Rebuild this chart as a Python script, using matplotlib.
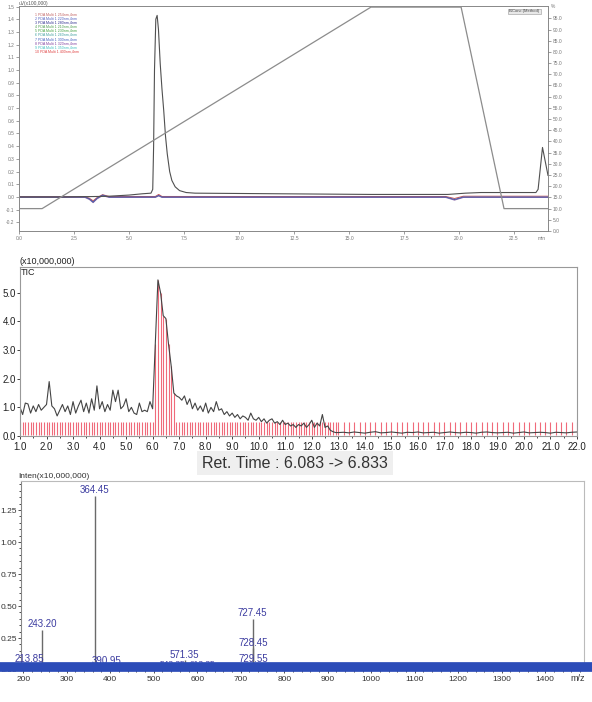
import matplotlib.pyplot as plt
import numpy as np
from matplotlib.ticker import MultipleLocator, FixedLocator

plt.rcParams['font.family'] = ['Liberation Sans', 'DejaVu Sans']

# ---------------- PDA chromatogram + gradient ----------------
main_t = [0.0, 2.0, 4.0, 5.0, 5.6, 6.0, 6.08, 6.12, 6.16, 6.22, 6.28, 6.34, 6.42, 6.5,
          6.58, 6.66, 6.74, 6.85, 6.95, 7.1, 7.3, 7.6, 8.0, 12.0, 16.0, 19.5, 20.3,
          21.0, 23.5, 23.6, 23.8, 24.05]
main_v = [0.0, 0.0, 0.005, 0.015, 0.025, 0.03, 0.06, 0.4, 1.0, 1.40, 1.43, 1.32, 1.05,
          0.85, 0.68, 0.48, 0.34, 0.2, 0.13, 0.08, 0.05, 0.035, 0.03, 0.025, 0.02, 0.02,
          0.03, 0.035, 0.035, 0.06, 0.39, 0.17]

blue_t = [0.0, 3.0, 3.2, 3.37, 3.55, 3.8, 4.1, 6.2, 6.35, 6.5, 19.4, 19.8, 20.2, 24.05]
blue_v = [0.0, 0.0, -0.015, -0.04, -0.01, 0.015, 0.0, 0.0, 0.012, 0.0, 0.0, -0.02, 0.0, 0.0]
red_v = [0.003, 0.003, -0.01, -0.03, -0.005, 0.018, 0.004, 0.004, 0.02, 0.004, 0.004,
         -0.012, 0.006, 0.006]
purple_v = [-0.004, -0.004, -0.02, -0.045, -0.015, 0.01, -0.004, -0.004, 0.008, -0.004,
            -0.004, -0.025, -0.004, -0.004]

grad_t = [0.0, 1.05, 16.0, 20.1, 22.05, 24.05]
grad_b = [10, 10, 100, 100, 10, 10]

legend_lines = ['1 PDA Multi 1 254nm,4nm', '2 PDA Multi 1 220nm,4nm', '3 PDA Multi 1 280nm,4nm',
                '4 PDA Multi 1 210nm,4nm', '5 PDA Multi 1 230nm,4nm', '6 PDA Multi 1 260nm,4nm',
                '7 PDA Multi 1 300nm,4nm', '8 PDA Multi 1 320nm,4nm', '9 PDA Multi 1 350nm,4nm',
                '10 PDA Multi 1 400nm,4nm']
legend_colors = ['#c06060', '#5060c0', '#303090', '#50a050', '#40a040', '#40a0a0',
                 '#4060c0', '#8040a0', '#40c0c0', '#e04040']

# ---------------- TIC ----------------
tic_t1 = [round(1.0 + 0.1 * i, 2) for i in range(121)]
tic_v1 = [1.00, 0.75, 1.15, 1.12, 0.80, 1.05, 0.85, 1.10, 0.90, 1.00,
          1.10, 1.90, 1.05, 0.95, 0.70, 0.90, 1.10, 0.85, 1.05, 0.75,
          1.20, 0.80, 1.05, 1.25, 0.85, 1.15, 0.80, 1.30, 0.90, 1.75,
          0.95, 1.20, 0.85, 1.10, 0.90, 1.60, 1.20, 1.60, 0.95, 1.05,
          1.30, 0.85, 1.00, 0.80, 0.75, 1.15, 0.85, 0.90, 0.85, 1.20,
          0.95, 3.20, 5.45, 5.00, 4.20, 4.10, 3.20, 2.45, 1.50, 1.40,
          1.35, 1.25, 1.40, 1.10, 1.30, 0.95, 1.15, 0.90, 1.05, 0.85,
          1.15, 0.80, 1.00, 0.85, 1.20, 0.90, 0.95, 0.75, 0.85, 0.70,
          0.80, 0.65, 0.75, 0.60, 0.70, 0.65, 0.55, 0.80, 0.60, 0.55,
          0.65, 0.50, 0.60, 0.45, 0.55, 0.60, 0.45, 0.50, 0.40, 0.55,
          0.40, 0.45, 0.35, 0.40, 0.30, 0.40, 0.35, 0.45, 0.30, 0.40,
          0.55, 0.30, 0.45, 0.35, 0.75, 0.30, 0.35, 0.20, 0.15, 0.12,
          0.12]
tic_t2 = [round(13.2 + 0.2 * i, 2) for i in range(45)]
tic_v2 = [0.13, 0.11, 0.14, 0.12, 0.10, 0.13, 0.15, 0.11, 0.12, 0.14,
          0.12, 0.10, 0.13, 0.12, 0.14, 0.11, 0.12, 0.13, 0.10, 0.12,
          0.14, 0.12, 0.11, 0.13, 0.12, 0.10, 0.13, 0.14, 0.12, 0.11,
          0.12, 0.13, 0.10, 0.12, 0.14, 0.11, 0.12, 0.13, 0.12, 0.10,
          0.13, 0.12, 0.11, 0.13, 0.14]
tic_t = tic_t1 + tic_t2
tic_v = tic_v1 + tic_v2
scan_mark_h = 0.48
rt_from, rt_to = 6.083, 6.833

# ---------------- Mass spectrum ----------------
ms_mz = [213.85, 243.20, 364.45, 390.95, 543.35, 571.35, 612.35, 727.45, 728.45, 729.55]
ms_int = [0.045, 0.31, 1.36, 0.035, 0.012, 0.08, 0.012, 0.40, 0.17, 0.05]
ms_labels = ['213.85', '243.20', '364.45', '390.95', '543.35', '571.35', '612.35',
             '727.45', '728.45', '729.55']

W, H = 592, 702
fig = plt.figure(figsize=(W / 100, H / 100), dpi=100)

def frac(l, t, r, b):
    return [l / W, 1 - b / H, (r - l) / W, (b - t) / H]

# top panel
ax1 = fig.add_axes(frac(19, 6, 548, 231))
ax1.plot(blue_t, purple_v, color='#8a6aa8', lw=0.7)
ax1.plot(blue_t, red_v, color='#c85858', lw=0.7)
ax1.plot(blue_t, blue_v, color='#4858a8', lw=0.7)
ax1.plot(main_t, main_v, color='#505050', lw=0.8)
ax1.set_xlim(0, 24.05)
ax1.set_ylim(-0.268, 1.504)
ax1.xaxis.set_major_locator(FixedLocator([0, 2.5, 5, 7.5, 10, 12.5, 15, 17.5, 20, 22.5]))
ax1.set_xticklabels(['0.0', '2.5', '5.0', '7.5', '10.0', '12.5', '15.0', '17.5', '20.0', '22.5'])
ax1.yaxis.set_major_locator(MultipleLocator(0.1))
ax1.yaxis.set_major_formatter(lambda v, p: f'{v:.1f}')
ax1.tick_params(labelsize=3.5, colors='#777', length=2, width=0.5, pad=1.5)
for s in ax1.spines.values():
    s.set_color('#888')
    s.set_linewidth(0.7)
ax1.text(23.75, -0.305, 'min', fontsize=3.5, color='#777', ha='center', va='top')
for i, (txt, c) in enumerate(zip(legend_lines, legend_colors)):
    ax1.text(0.03, 0.97 - i * 0.018, txt, transform=ax1.transAxes, fontsize=2.6,
             color=c, va='top')
ax1.text(0.0, 1.001, 'uV(x100,000)', transform=ax1.transAxes, fontsize=3.5,
         color='#555', va='bottom')

ax1b = ax1.twinx()
ax1b.plot(grad_t, grad_b, color='#8c8c8c', lw=0.9)
ax1b.set_ylim(0, 100.5)
ax1b.yaxis.set_major_locator(FixedLocator(list(range(0, 100, 5))))
ax1b.yaxis.set_major_formatter(lambda v, p: f'{v:.1f}')
ax1b.tick_params(labelsize=3.5, colors='#777', length=2, width=0.5, pad=1.5)
ax1b.text(1.005, 1.0, '%', transform=ax1b.transAxes, fontsize=3.5, color='#777', va='center')
ax1b.text(0.985, 0.985, 'B.Conc.(Method)', transform=ax1b.transAxes, fontsize=3,
          color='#444', ha='right', va='top',
          bbox=dict(facecolor='#e8e8e8', edgecolor='#999', lw=0.4, pad=0.6))
for s in ax1b.spines.values():
    s.set_visible(False)

# middle panel
ax2 = fig.add_axes(frac(20, 267, 577, 436))
for t, v in zip(tic_t, tic_v):
    top = v if rt_from <= t <= rt_to else scan_mark_h
    ax2.vlines(t, 0.03, top, color='#f06a7a', lw=0.8)
ax2.plot(tic_t, tic_v, color='#444', lw=0.8)
ax2.set_xlim(1.0, 22.0)
ax2.set_ylim(0, 5.9)
ax2.xaxis.set_major_locator(MultipleLocator(1.0))
ax2.xaxis.set_minor_locator(MultipleLocator(0.5))
ax2.xaxis.set_major_formatter(lambda v, p: f'{v:.1f}')
ax2.yaxis.set_major_locator(FixedLocator([0, 1, 2, 3, 4, 5]))
ax2.yaxis.set_major_formatter(lambda v, p: f'{v:.1f}')
ax2.tick_params(labelsize=7, colors='#222', length=2, width=0.6, pad=1)
ax2.tick_params(axis='x', pad=2)
ax2.tick_params(which='minor', length=1.5, width=0.5)
for s in ax2.spines.values():
    s.set_color('#999')
    s.set_linewidth(0.8)
ax2.text(0.0, 1.005, '(x10,000,000)', transform=ax2.transAxes, fontsize=6.5,
         color='#222', va='bottom')
ax2.text(0.002, 0.995, 'TIC', transform=ax2.transAxes, fontsize=6.5, color='#222', va='top')

fig.text(0.498, 1 - 463 / H, f'Ret. Time : {rt_from:.3f} -> {rt_to:.3f}', fontsize=11.5,
         color='#333', ha='center', va='center',
         bbox=dict(facecolor='#efefef', edgecolor='none', pad=3.5))

# bottom panel
ax3 = fig.add_axes(frac(21, 481, 584, 670))
ax3.vlines(ms_mz, 0, ms_int, color='#6a6a6a', lw=1.0)
for mz, h, lab in zip(ms_mz, ms_int, ms_labels):
    dy = 0.01 if h > 0.2 else 0.0
    fs = 7 if h > 0.03 else 6
    ax3.text(mz, h + dy, lab, fontsize=fs, color='#3c3ca0', ha='center', va='bottom')
ax3.axhline(0.022, xmin=-0.04, xmax=1.02, color='#2c4cb8', lw=7, clip_on=False, zorder=5)
ax3.set_xlim(195, 1489)
ax3.set_ylim(0, 1.477)
ax3.xaxis.set_major_locator(FixedLocator(list(range(200, 1500, 100))))
ax3.xaxis.set_minor_locator(MultipleLocator(20))
ax3.yaxis.set_major_locator(FixedLocator([0, 0.25, 0.5, 0.75, 1.0, 1.25]))
ax3.yaxis.set_minor_locator(MultipleLocator(0.05))
ax3.yaxis.set_major_formatter(lambda v, p: f'{v:.2f}')
ax3.tick_params(labelsize=6, colors='#333', length=2, width=0.6, pad=1)
ax3.tick_params(axis='x', pad=2)
ax3.tick_params(which='minor', length=1.2, width=0.5)
for s in ax3.spines.values():
    s.set_color('#bbb')
    s.set_linewidth(0.8)
ax3.spines['left'].set_color('#888')
ax3.text(1475, -0.035, 'm/z', fontsize=6.5, color='#333', ha='center', va='top')
ax3.text(-0.005, 1.003, 'Inten(x10,000,000)', transform=ax3.transAxes, fontsize=6,
         color='#333', va='bottom')

fig.savefig('out.png', dpi=100)
